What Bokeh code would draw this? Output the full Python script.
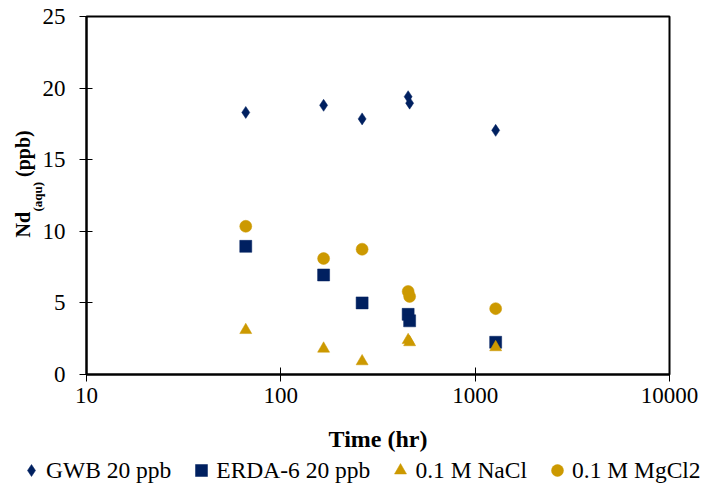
from bokeh.plotting import figure
from bokeh.layouts import column
from bokeh.models import (Range1d, FixedTicker, NumeralTickFormatter, Legend,
                          LegendItem, Title, ColumnDataSource)
from bokeh.embed import file_html
from bokeh.resources import INLINE

# ---- data ----
time_hr = [66, 166, 262, 452, 460, 1275]
gwb_20 = [18.3, 18.8, 17.85, 19.4, 18.95, 17.05]
erda6_20 = [8.95, 6.95, 5.0, 4.2, 3.75, 2.25]
nacl_01 = [3.1, 1.8, 0.92, 2.4, 2.25, 1.9]
mgcl2_01 = [10.35, 8.1, 8.75, 5.8, 5.45, 4.6]

series_names = ["GWB 20 ppb", "ERDA-6 20 ppb", "0.1 M NaCl", "0.1 M MgCl2"]
y_ticks = [0, 5, 10, 15, 20, 25]
x_ticks = [10, 100, 1000, 10000]

NAVY = "#002060"
GOLD = "#CC9900"
FONT = "Liberation Serif"
NBSP = "\u00a0"
markers = ["diamond", "square", "triangle", "circle"]
colors = [NAVY, NAVY, GOLD, GOLD]
cols = ["gwb", "erda", "nacl", "mgcl"]

src = ColumnDataSource(dict(t=time_hr, gwb=gwb_20, erda=erda6_20,
                            nacl=nacl_01, mgcl=mgcl2_01))

# ---------------- main chart ----------------
p = figure(width=713, height=456, x_axis_type="log",
           x_range=Range1d(10, 10000), y_range=Range1d(0, 25),
           output_backend="svg", toolbar_location=None,
           min_border_left=86, min_border_right=44,
           min_border_top=16, min_border_bottom=82)
p.frame_align = False

for m, c, col in zip(markers, colors, cols):
    p.scatter("t", col, source=src, marker=m, size=12,
              fill_color=c, line_color=c, line_width=0.5)

p.xgrid.visible = False
p.ygrid.visible = False
p.outline_line_color = "black"
p.outline_line_width = 2
p.background_fill_color = "white"
p.border_fill_color = "white"

for ax in (p.xaxis[0], p.yaxis[0]):
    ax.axis_line_color = "black"
    ax.axis_line_width = 2
    ax.major_tick_line_color = "black"
    ax.major_tick_line_width = 1
    ax.minor_tick_line_color = None
    ax.major_label_text_font = FONT
    ax.major_label_text_font_size = "23px"
    ax.major_label_text_color = "black"

p.xaxis.ticker = FixedTicker(ticks=x_ticks)
p.xaxis.formatter = NumeralTickFormatter(format="0")
p.xaxis.major_tick_in = 7
p.xaxis.major_tick_out = 7
p.xaxis.major_label_standoff = 6
p.xaxis.axis_label = "Time (hr)"
p.xaxis.axis_label_text_font = FONT
p.xaxis.axis_label_text_font_style = "bold"
p.xaxis.axis_label_text_font_size = "24px"
p.xaxis.axis_label_text_color = "black"
p.xaxis.axis_label_standoff = 20

p.yaxis.ticker = FixedTicker(ticks=y_ticks)
p.yaxis.major_tick_in = 6
p.yaxis.major_tick_out = 7
p.yaxis.major_label_standoff = 14

# y axis title with subscript
sub_title = Title(text="(aqu)", align="left", offset=163,
                  vertical_align="bottom", standoff=-11,
                  text_font=FONT, text_font_style="bold",
                  text_font_size="13px", text_color="black")
main_title = Title(text="Nd" + NBSP * 7 + "(ppb)", align="left", offset=137,
                   vertical_align="bottom", standoff=0,
                   text_font=FONT, text_font_style="bold",
                   text_font_size="20px", text_color="black")
p.add_layout(sub_title, "left")
p.add_layout(main_title, "left")

# ---------------- legend strip ----------------
lg = figure(width=713, height=37, x_range=Range1d(0, 1), y_range=Range1d(0, 1),
            output_backend="svg", toolbar_location=None,
            min_border_left=0, min_border_right=0,
            min_border_top=0, min_border_bottom=0)
lg.frame_align = False
lg.axis.visible = False
lg.xgrid.visible = False
lg.ygrid.visible = False
lg.outline_line_color = None
lg.background_fill_color = "white"
lg.border_fill_color = "white"

items = []
for name, m, c, col in zip(series_names, markers, colors, cols):
    r = lg.scatter("t", col, source=src, marker=m, size=12,
                   fill_color=c, line_color=c, line_width=0.5)
    r.visible = False
    items.append(LegendItem(label=name, renderers=[r]))

legend = Legend(items=items, location=(16, 8), orientation="horizontal",
                glyph_width=30, glyph_height=30, label_standoff=0,
                spacing=15, padding=0, margin=0,
                border_line_color=None, background_fill_alpha=0,
                inactive_fill_alpha=0,
                label_text_font=FONT, label_text_font_size="23.5px",
                label_text_color="black")
lg.add_layout(legend)

layout = column(p, lg, spacing=0)
open("out.html", "w").write(file_html(layout, INLINE))
